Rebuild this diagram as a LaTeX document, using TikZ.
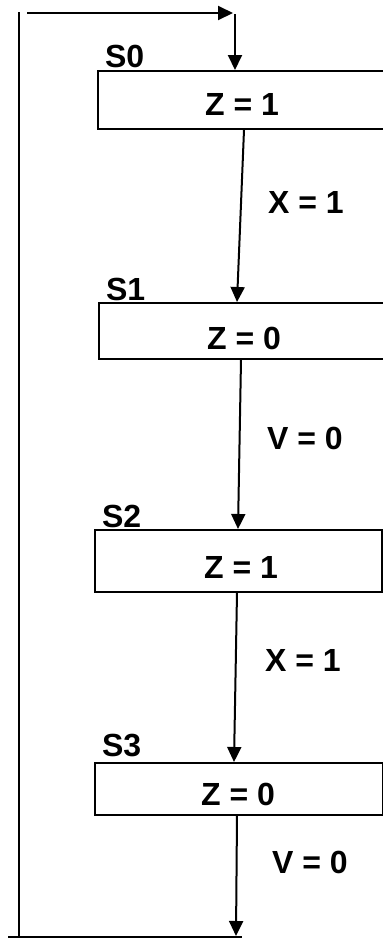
\documentclass[tikz,border=0pt]{standalone}
\usepackage{fontspec}
\setmainfont{Liberation Sans}
\usetikzlibrary{arrows.meta}
\begin{document}
\begin{tikzpicture}[x=1pt,y=-1pt,
  line width=2pt,
  arr/.style={-{Triangle[length=15pt,width=14pt]}},
  statebox/.style={draw,line width=2pt,rectangle,anchor=north west,inner sep=0pt},
  txt/.style={font=\bfseries\fontsize{32}{32}\selectfont,inner sep=0pt},
  stname/.style={txt,anchor=base west}]
\useasboundingbox (0,0) rectangle (383,938);

% state boxes (the first two run past the right edge)
\node[statebox,minimum width=290pt,minimum height=58pt] (b0) at (97,70) {};
\node[statebox,minimum width=290pt,minimum height=56pt] (b1) at (98,302) {};
\node[statebox,minimum width=287pt,minimum height=62pt] (b2) at (94,529) {};
\node[statebox,minimum width=288pt,minimum height=52pt] (b3) at (94,762) {};

% state names
\node[stname] (n0) at (104,67) {S0};
\node[stname] (n1) at (105,300) {S1};
\node[stname] (n2) at (101,527) {S2};
\node[stname] (n3) at (101,756) {S3};

% outputs
\node[txt] (z0) at (242,104) {Z = 1};
\node[txt] (z1) at (244,338) {Z = 0};
\node[txt] (z2) at (241,567) {Z = 1};
\node[txt] (z3) at (238,794) {Z = 0};

% conditions
\node[txt] (c0) at (306,202) {X = 1};
\node[txt] (c1) at (305,438) {V = 0};
\node[txt] (c2) at (303,660) {X = 1};
\node[txt] (c3) at (310,862) {V = 0};

% loop-back path
\coordinate (lt) at (19,12);
\coordinate (lb) at (19,937);
\coordinate (bl) at (8,937);
\coordinate (br) at (242,937);
\coordinate (tl) at (27,13);
\coordinate (tr) at (233,13);
\coordinate (d0) at (235,14);
\coordinate (e3) at (236,936);

\draw (lt) -- (lb);
\draw (bl) -- (br);
\draw[arr] (tl) -- (tr);
\draw[arr] (d0) -- (b0.north -| d0);

% transitions
\draw[arr] (b0.south -| 244,0) -- (b1.north -| 237,0);
\draw[arr] (b1.south -| 241,0) -- (b2.north -| 238,0);
\draw[arr] (b2.south -| 237,0) -- (b3.north -| 234,0);
\draw[arr] (b3.south -| 237,0) -- (e3);
\end{tikzpicture}
\end{document}
